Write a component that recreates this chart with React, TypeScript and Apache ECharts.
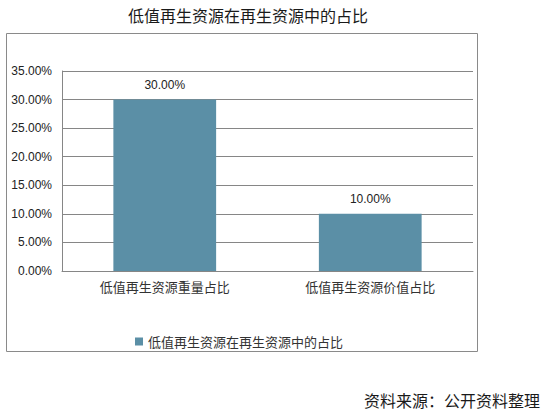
import React, { useEffect, useRef } from "react";
import * as echarts from "echarts";

const titleText = "低值再生资源在再生资源中的占比";
const seriesName = "低值再生资源在再生资源中的占比";
const categories = ["低值再生资源重量占比", "低值再生资源价值占比"];
const values = [0.3, 0.1];
const yMin = 0;
const yMax = 0.35;
const yInterval = 0.05;
const sourceText = "资料来源：公开资料整理";

const CJK = '"Noto Sans CJK SC", "Noto Sans", sans-serif';
const LAT = '"Liberation Sans", Arial, sans-serif';

export default function App() {
  const ref = useRef<HTMLDivElement>(null);
  useEffect(() => {
    if (!ref.current) return;
    const chart = echarts.init(ref.current, null, { renderer: "svg" });
    chart.setOption({
      animation: false,
      backgroundColor: "#ffffff",
      title: {
        text: titleText,
        left: 243,
        textAlign: "center",
        top: 2,
        textStyle: { fontFamily: CJK, fontSize: 16, fontWeight: "normal", color: "#1a1a1a" },
      },
      legend: {
        left: 135,
        top: 335,
        padding: 0,
        itemWidth: 8,
        itemHeight: 8,
        itemGap: 10,
        icon: "rect",
        textStyle: { fontFamily: CJK, fontSize: 13, color: "#333333" },
        data: [seriesName],
      },
      grid: { left: 62, top: 71, width: 411, height: 200, containLabel: false },
      xAxis: {
        type: "category",
        data: categories,
        axisLine: { show: true, lineStyle: { color: "#868686", width: 1 } },
        axisTick: { show: false },
        axisLabel: { fontFamily: CJK, fontSize: 13, color: "#333333", margin: 9 },
      },
      yAxis: {
        type: "value",
        min: yMin,
        max: yMax,
        interval: yInterval,
        axisLine: { show: true, lineStyle: { color: "#868686", width: 1 } },
        axisTick: { show: false },
        splitLine: { show: true, lineStyle: { color: "#868686", width: 1 } },
        axisLabel: {
          fontFamily: LAT,
          fontSize: 12,
          color: "#222222",
          margin: 10,
          formatter: (v: number) => (v * 100).toFixed(2) + "%",
        },
      },
      series: [
        {
          name: seriesName,
          type: "bar",
          data: values,
          barWidth: "50%",
          itemStyle: { color: "#5b8fa6" },
          label: {
            show: true,
            position: "top",
            distance: 9,
            fontFamily: LAT,
            fontSize: 12,
            color: "#222222",
            formatter: (p: any) => (p.value * 100).toFixed(2) + "%",
          },
        },
      ],
      graphic: [
        {
          type: "rect",
          shape: { x: 6.5, y: 33.5, width: 471, height: 318 },
          style: { fill: "none", stroke: "#8a8a8a", lineWidth: 1 },
          silent: true,
          z: -1,
        },
        {
          type: "text",
          x: 540,
          y: 400,
          style: {
            text: sourceText,
            fontFamily: CJK,
            fontSize: 16,
            fill: "#1a1a1a",
            textAlign: "right",
            textVerticalAlign: "middle",
          },
        },
      ],
    });
    return () => chart.dispose();
  }, []);
  return (
    <div
      ref={ref}
      style={{ position: "fixed", left: 0, top: 0, width: 546, height: 413 }}
    />
  );
}
